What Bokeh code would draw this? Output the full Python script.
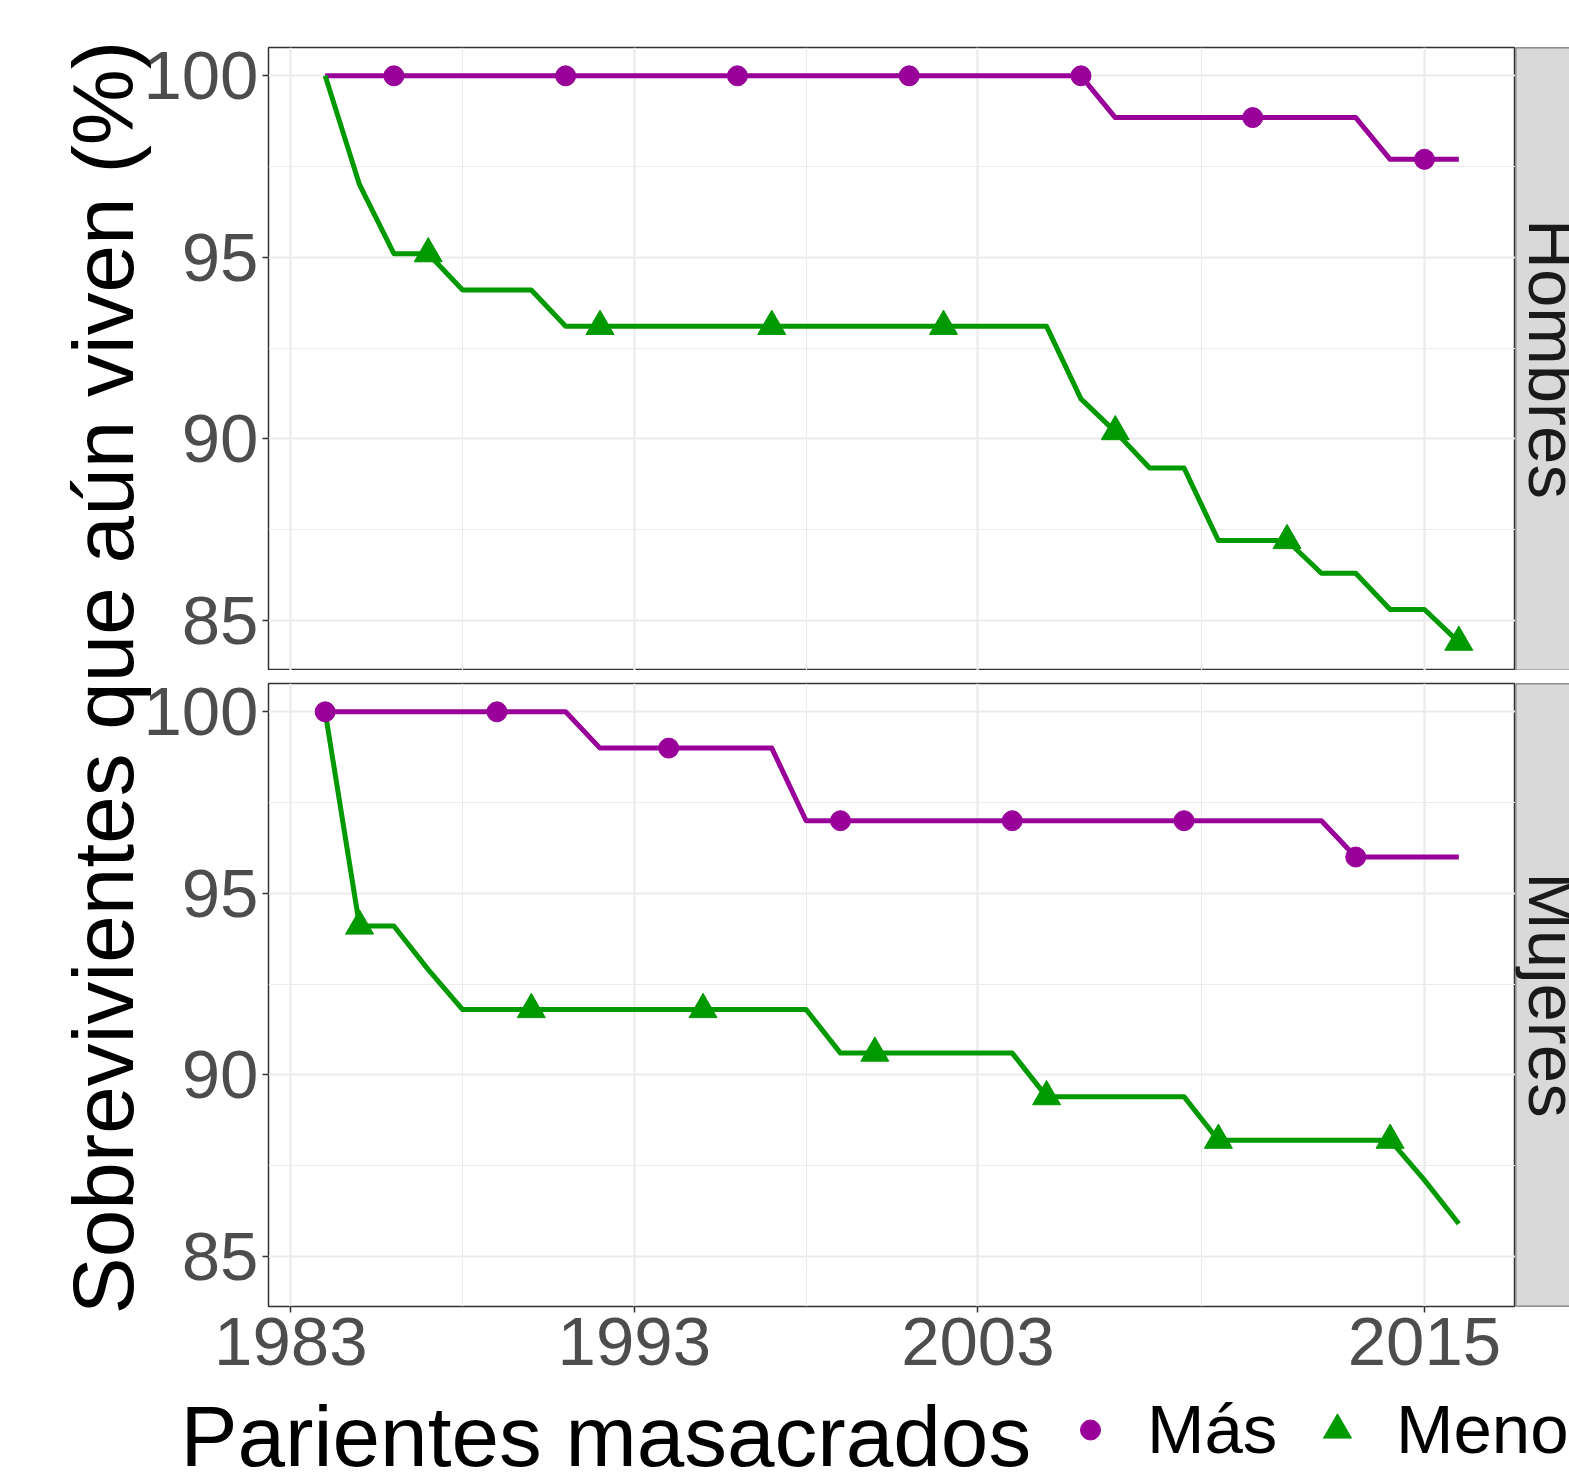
import math
from bokeh.plotting import figure
from bokeh.models import Range1d, FixedTicker, Label, Legend, LegendItem, Span
from bokeh.layouts import row, column
from bokeh.embed import file_html
from bokeh.resources import INLINE

# ---------------- data ----------------
anio = [1, 2, 3, 4, 5, 6, 7, 8, 9, 10, 11, 12, 13, 14, 15, 16, 17,
        18, 19, 20, 21, 22, 23, 24, 25, 26, 27, 28, 29, 30, 31, 32, 33, 34]

hombres_mas = [100, 100, 100, 100, 100, 100, 100, 100, 100, 100, 100, 100,
               100, 100, 100, 100, 100, 100, 100, 100, 100, 100, 100,
               98.85, 98.85, 98.85, 98.85, 98.85, 98.85, 98.85, 98.85,
               97.7, 97.7, 97.7]
hombres_menos = [100, 97.0, 95.1, 95.1, 94.1, 94.1, 94.1,
                 93.1, 93.1, 93.1, 93.1, 93.1, 93.1, 93.1, 93.1, 93.1, 93.1,
                 93.1, 93.1, 93.1, 93.1, 93.1,
                 91.1, 90.2, 89.2, 89.2, 87.2, 87.2, 87.2, 86.3, 86.3,
                 85.3, 85.3, 84.4]
mujeres_mas = [100, 100, 100, 100, 100, 100, 100, 100,
               99.0, 99.0, 99.0, 99.0, 99.0, 99.0,
               97.0, 97.0, 97.0, 97.0, 97.0, 97.0, 97.0, 97.0, 97.0, 97.0,
               97.0, 97.0, 97.0, 97.0, 97.0, 97.0,
               96.0, 96.0, 96.0, 96.0]
mujeres_menos = [100, 94.1, 94.1, 92.9,
                 91.8, 91.8, 91.8, 91.8, 91.8, 91.8, 91.8, 91.8, 91.8, 91.8, 91.8,
                 90.6, 90.6, 90.6, 90.6, 90.6, 90.6,
                 89.4, 89.4, 89.4, 89.4, 89.4,
                 88.2, 88.2, 88.2, 88.2, 88.2, 88.2,
                 87.1, 85.9]

# years at which the point shapes are drawn
hombres_mas_marcas = [3, 8, 13, 18, 23, 28, 33]
hombres_menos_marcas = [4, 9, 14, 19, 24, 29, 34]
mujeres_mas_marcas = [1, 6, 11, 16, 21, 26, 31]
mujeres_menos_marcas = [2, 7, 12, 17, 22, 27, 32]

x_tick_values = [0, 10, 20, 33]
x_tick_labels = ["1983", "1993", "2003", "2015"]
x_minor_ticks = [5, 15, 26.5]
y_tick_values = [85, 90, 95, 100]
y_minor_ticks = [87.5, 92.5, 97.5]

paneles = ["Hombres", "Mujeres"]
grupos = ["Más", "Menos"]
titulo_y = "Sobrevivientes que aún viven (%)"
titulo_leyenda = "Parientes masacrados"

# ---------------- style ----------------
PURPLE = "#990099"
GREEN = "#009900"
FONT = "Liberation Sans"
BORDER = "#333333"
GRID = "#EBEBEB"

allv = hombres_mas + hombres_menos + mujeres_mas + mujeres_menos
ylo, yhi = min(allv), max(allv)
ypad = 0.05 * (yhi - ylo)
xlo, xhi = min(anio), max(anio)
xpad = 0.05 * (xhi - xlo)

YT_W = 156          # y-title column width
YT_OVERLAP = 20     # the panels overlap the y-title column by this much
PANEL_X = YT_W - YT_OVERLAP
PANEL_W = 1515 - PANEL_X
STRIP_W = 54
TOP_H = 670
BOT_H = 731
LEG_H = 72
FRAME_H = 623


def valores_en(serie, marcas):
    return [serie[anio.index(k)] for k in marcas]


def make_panel(height, b_top, b_bottom, show_x, mas, menos, mas_m, menos_m):
    p = figure(width=PANEL_W, height=height,
               x_range=Range1d(xlo - xpad, xhi + xpad),
               y_range=Range1d(ylo - ypad, yhi + ypad),
               output_backend="svg", toolbar_location=None,
               min_border_left=268 - PANEL_X, min_border_right=0,
               min_border_top=b_top, min_border_bottom=b_bottom,
               background_fill_color="white", border_fill_color=None,
               outline_line_color=BORDER, outline_line_width=1.5)
    xt = FixedTicker(ticks=x_tick_values, minor_ticks=x_minor_ticks)
    yt = FixedTicker(ticks=y_tick_values, minor_ticks=y_minor_ticks)
    p.xaxis.ticker = xt
    p.yaxis.ticker = yt
    p.xgrid.ticker = xt
    p.ygrid.ticker = yt
    for g in (p.xgrid, p.ygrid):
        g.grid_line_color = GRID
        g.grid_line_width = 2.2
        g.minor_grid_line_color = GRID
        g.minor_grid_line_width = 1.1
    for ax in (p.xaxis, p.yaxis):
        ax.axis_line_color = None
        ax.major_tick_line_color = BORDER
        ax.major_tick_line_width = 1.5
        ax.major_tick_out = 6
        ax.major_tick_in = 0
        ax.minor_tick_line_color = None
        ax.major_label_text_font = FONT
        ax.major_label_text_font_size = "69px"
        ax.major_label_text_color = "#4D4D4D"
    p.yaxis.major_label_standoff = 4
    p.xaxis.major_label_standoff = 5
    p.xaxis.major_label_overrides = dict(zip(x_tick_values, x_tick_labels))
    p.xaxis.visible = show_x

    p.line(anio, mas, line_color=PURPLE, line_width=5, line_join="round")
    p.line(anio, menos, line_color=GREEN, line_width=5, line_join="round")
    p.scatter(mas_m, valores_en(mas, mas_m), marker="circle", size=20,
              fill_color=PURPLE, line_color=PURPLE)
    p.scatter(menos_m, valores_en(menos, menos_m), marker="triangle", size=28,
              fill_color=GREEN, line_color=GREEN)
    return p


def make_strip(height, b_top, b_bottom, text):
    s = figure(width=STRIP_W, height=height,
               x_range=Range1d(0, 1), y_range=Range1d(0, 1),
               x_axis_location=None, y_axis_location=None,
               min_border_left=0, min_border_right=0,
               min_border_top=b_top, min_border_bottom=b_bottom,
               background_fill_color="#D9D9D9", border_fill_color="white",
               outline_line_color=None,
               output_backend="svg", toolbar_location=None)
    s.grid.grid_line_color = None
    for loc in (0, 1):
        s.add_layout(Span(location=loc, dimension="width",
                          line_color=BORDER, line_width=1.5))
    s.add_layout(Span(location=0, dimension="height",
                      line_color=BORDER, line_width=1.5))
    s.add_layout(Label(x=36.5, y=FRAME_H / 2, x_units="screen", y_units="screen",
                       text=text, angle=-math.pi / 2, text_align="center",
                       text_baseline="middle", text_font=FONT,
                       text_font_size="69px", text_color="#1A1A1A"))
    return s


top = make_panel(TOP_H, 47, 0, False, hombres_mas, hombres_menos,
                 hombres_mas_marcas, hombres_menos_marcas)
bot = make_panel(BOT_H, 13, BOT_H - 13 - FRAME_H, True, mujeres_mas, mujeres_menos,
                 mujeres_mas_marcas, mujeres_menos_marcas)
strip_top = make_strip(TOP_H, 47, 0, paneles[0])
strip_bot = make_strip(BOT_H, 13, BOT_H - 13 - FRAME_H, paneles[1])

# y-axis title (its column is overlapped by the transparent panel borders)
yt_fig = figure(width=YT_W, height=TOP_H + BOT_H,
                x_range=Range1d(0, 1), y_range=Range1d(0, 1),
                x_axis_location=None, y_axis_location=None,
                min_border=0, outline_line_color=None,
                background_fill_color="white", border_fill_color="white",
                output_backend="svg", toolbar_location=None,
                margin=(0, -YT_OVERLAP, 0, 0))
yt_fig.grid.grid_line_color = None
yt_fig.add_layout(Label(x=103, y=(TOP_H + BOT_H) - 677, x_units="screen", y_units="screen",
                        text=titulo_y, angle=math.pi / 2, text_align="center",
                        text_baseline="middle", text_font=FONT,
                        text_font_size="85.5px", text_color="black"))

# legend row
leg_fig = figure(width=PANEL_X + PANEL_W + STRIP_W, height=LEG_H,
                 x_range=Range1d(0, 1), y_range=Range1d(0, 1),
                 x_axis_location=None, y_axis_location=None,
                 min_border=0, outline_line_color=None,
                 background_fill_color="white", border_fill_color="white",
                 output_backend="svg", toolbar_location=None)
leg_fig.grid.grid_line_color = None
leg_fig.add_layout(Label(x=180, y=37.5, x_units="screen", y_units="screen",
                         text=titulo_leyenda, text_align="left",
                         text_baseline="middle", text_font=FONT,
                         text_font_size="85.5px", text_color="black"))
# legend key renderers: the same point series, lying outside this strip's ranges
r_mas = leg_fig.scatter(hombres_mas_marcas, valores_en(hombres_mas, hombres_mas_marcas),
                        marker="circle", size=20, fill_color=PURPLE, line_color=PURPLE)
r_men = leg_fig.scatter(hombres_menos_marcas, valores_en(hombres_menos, hombres_menos_marcas),
                        marker="triangle", size=28, fill_color=GREEN, line_color=GREEN)


def make_legend(label, rend, gw, loc, standoff):
    return Legend(items=[LegendItem(label=label, renderers=[rend])],
                  location=loc, glyph_width=gw, glyph_height=77,
                  label_standoff=standoff, padding=0, margin=0, spacing=0,
                  border_line_color=None, background_fill_alpha=0,
                  label_text_font=FONT, label_text_font_size="69px",
                  label_text_color="black", label_height=77)


leg_fig.add_layout(make_legend(grupos[0], r_mas, 50, (1065, 4), 32))
leg_fig.add_layout(make_legend(grupos[1], r_men, 70, (1302, 4), 24))

layout = column(row(yt_fig, column(row(top, strip_top), row(bot, strip_bot))), leg_fig)

with open("out.html", "w") as f:
    f.write(file_html(layout, INLINE))
